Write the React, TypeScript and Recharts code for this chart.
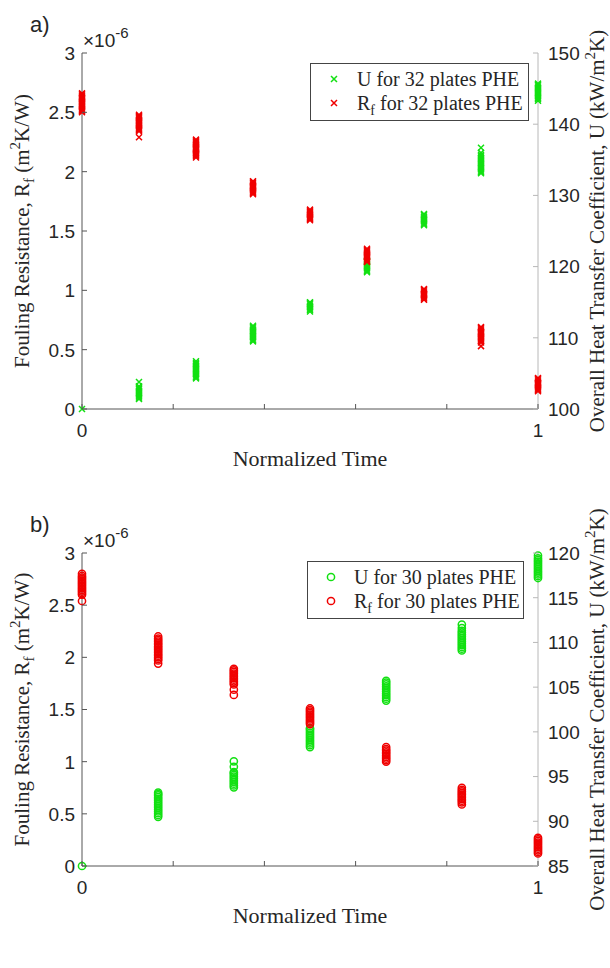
import React from 'react';
import { ScatterChart, Scatter, XAxis, YAxis } from 'recharts';

const RED = '#f00000';
const GREEN = '#12e012';
const AXIS = '#555555';
const AXIS_LIGHT = '#b8b8b8';
const TEXT = '#262626';
const SANS = '"Liberation Sans", Arial, sans-serif';
const SERIF = '"Liberation Serif", "Times New Roman", serif';

// x positions (normalized time)
const timeA = [0, 0.125, 0.25, 0.375, 0.5, 0.625, 0.75, 0.875, 1];
const timeB = [0, 0.167, 0.333, 0.5, 0.667, 0.833, 1];

// panel a) 32 plates, Rf in 1e-6 m2K/W (left axis)
const rfA = [
  [2.5, 2.51, 2.52, 2.53, 2.54, 2.55, 2.56, 2.57, 2.58, 2.59, 2.6, 2.61, 2.62, 2.63, 2.64, 2.65, 2.66],
  [2.29, 2.34, 2.35, 2.36, 2.37, 2.38, 2.39, 2.4, 2.41, 2.42, 2.43, 2.44, 2.45, 2.46, 2.47, 2.48],
  [2.12, 2.13, 2.14, 2.15, 2.16, 2.17, 2.18, 2.19, 2.2, 2.21, 2.22, 2.23, 2.24, 2.25, 2.26, 2.27],
  [1.81, 1.82, 1.83, 1.84, 1.85, 1.86, 1.87, 1.88, 1.89, 1.9, 1.91, 1.92],
  [1.59, 1.6, 1.61, 1.62, 1.63, 1.64, 1.65, 1.66, 1.67, 1.68],
  [1.24, 1.25, 1.26, 1.27, 1.28, 1.29, 1.3, 1.31, 1.32, 1.33, 1.34, 1.35],
  [0.92, 0.93, 0.94, 0.95, 0.96, 0.97, 0.98, 0.99, 1.0, 1.01],
  [0.53, 0.56, 0.57, 0.58, 0.59, 0.6, 0.61, 0.62, 0.63, 0.64, 0.65, 0.66, 0.67, 0.68, 0.69],
  [0.15, 0.16, 0.17, 0.18, 0.19, 0.2, 0.21, 0.22, 0.23, 0.24, 0.25, 0.26],
];
// panel a) 32 plates, U in kW/m2K (right axis)
const uA = [
  [100],
  [101.4, 101.6, 101.8, 102, 102.2, 102.4, 102.6, 102.8, 103, 103.2, 103.8],
  [104.3, 104.5, 104.7, 104.9, 105.1, 105.3, 105.5, 105.7, 105.9, 106.1, 106.3, 106.5, 106.7],
  [109.5, 109.7, 109.9, 110.1, 110.3, 110.5, 110.7, 110.9, 111.1, 111.3, 111.5, 111.7],
  [113.7, 113.9, 114.1, 114.3, 114.5, 114.7, 114.9, 115],
  [119.2, 119.4, 119.6, 119.8, 120, 120.2, 120.4, 120.6, 120.8],
  [125.8, 126, 126.2, 126.4, 126.6, 126.8, 127, 127.2, 127.4],
  [133.1, 133.3, 133.5, 133.7, 133.9, 134.1, 134.3, 134.5, 134.7, 134.9, 135.1, 135.3, 135.5, 135.7, 136, 136.7],
  [143.3, 143.5, 143.7, 143.9, 144.1, 144.3, 144.5, 144.7, 144.9, 145.1, 145.3, 145.5, 145.7],
];

// panel b) 30 plates, Rf in 1e-6 m2K/W (left axis)
const rfB = [
  [2.54, 2.6, 2.615, 2.63, 2.645, 2.66, 2.675, 2.69, 2.705, 2.72, 2.735, 2.75, 2.765, 2.78, 2.8],
  [1.94, 1.97, 1.985, 2.0, 2.015, 2.03, 2.045, 2.06, 2.075, 2.09, 2.105, 2.12, 2.135, 2.15, 2.165, 2.18, 2.2],
  [1.64, 1.69, 1.74, 1.755, 1.77, 1.785, 1.8, 1.815, 1.83, 1.845, 1.86, 1.875, 1.89],
  [1.36, 1.375, 1.39, 1.405, 1.42, 1.435, 1.45, 1.465, 1.48, 1.495, 1.51],
  [1.0, 1.015, 1.03, 1.045, 1.06, 1.075, 1.09, 1.105, 1.12, 1.14],
  [0.59, 0.61, 0.625, 0.64, 0.655, 0.67, 0.685, 0.7, 0.715, 0.73, 0.75],
  [0.12, 0.135, 0.15, 0.165, 0.18, 0.195, 0.21, 0.225, 0.24, 0.255, 0.27],
];
// panel b) 30 plates, U in kW/m2K (right axis)
const uB = [
  [85],
  [90.5, 90.7, 90.9, 91.1, 91.3, 91.5, 91.7, 91.9, 92.1, 92.3, 92.5, 92.7, 92.9, 93.05, 93.2],
  [93.8, 94, 94.2, 94.4, 94.6, 94.8, 95, 95.2, 95.4, 95.5, 96.1, 96.7],
  [98.3, 98.5, 98.7, 98.9, 99.1, 99.3, 99.5, 99.7, 99.9, 100.1, 100.3, 100.4],
  [103.5, 103.7, 103.9, 104.1, 104.3, 104.5, 104.7, 104.9, 105.1, 105.3, 105.5, 105.7],
  [109.1, 109.3, 109.5, 109.7, 109.9, 110.1, 110.3, 110.5, 110.7, 110.9, 111.1, 111.3, 111.6, 112],
  [117.2, 117.4, 117.6, 117.8, 118, 118.2, 118.4, 118.6, 118.8, 119, 119.2, 119.4, 119.7],
];

const xTicks = [0, 0.2, 0.4, 0.6, 0.8, 1];
const rfTicks = [0, 0.5, 1, 1.5, 2, 2.5, 3];
const uTicksA = [100, 110, 120, 130, 140, 150];
const uTicksB = [85, 90, 95, 100, 105, 110, 115, 120];

const toPoints = (times: number[], groups: number[][]) =>
  groups.flatMap((vals, i) => vals.map((v) => ({ x: times[i], y: v })));

const TOP = 53;
const X_AXIS_H = 30;

const XMark = (props: any) => {
  const { cx, cy, fill } = props;
  const r = 3;
  return (
    <path
      d={`M${cx - r},${cy - r}L${cx + r},${cy + r}M${cx - r},${cy + r}L${cx + r},${cy - r}`}
      stroke={fill}
      strokeWidth={1.5}
      fill="none"
    />
  );
};

const OMark = (props: any) => {
  const { cx, cy, fill } = props;
  return <circle cx={cx} cy={cy} r={3.6} stroke={fill} strokeWidth={1.5} fill="none" />;
};

const BottomTick = (props: any) => {
  const { x, y, payload } = props;
  const show = payload.value === 0 || payload.value === 1;
  return (
    <g>
      <line x1={x} y1={y} x2={x} y2={y - 5} stroke={AXIS} />
      {show && (
        <text x={x} y={y + 28} textAnchor="middle" fontFamily={SANS} fontSize={19} fill={TEXT}>
          {payload.value}
        </text>
      )}
    </g>
  );
};

const LeftTick = (props: any) => {
  const { x, y, payload } = props;
  return (
    <g>
      <line x1={x} y1={y} x2={x + 5} y2={y} stroke={AXIS} />
      <text x={x - 7} y={y} dy="0.36em" textAnchor="end" fontFamily={SANS} fontSize={19} fill={TEXT}>
        {payload.value}
      </text>
    </g>
  );
};

const makeRightTick = (color: string) => (props: any) => {
  const { x, y, payload } = props;
  return (
    <g>
      <line x1={x} y1={y} x2={x - 5} y2={y} stroke={color} />
      <text x={x + 10} y={y} dy="0.36em" textAnchor="start" fontFamily={SANS} fontSize={19} fill={TEXT}>
        {payload.value}
      </text>
    </g>
  );
};

interface PanelProps {
  top: number;
  height: number;
  plotBottom: number;
  tag: string;
  plates: number;
  times: number[];
  rf: number[][];
  u: number[][];
  uDomain: [number, number];
  uTicks: number[];
  Shape: (props: any) => React.ReactElement;
  legend: { left: number; top: number; width: number };
}

const Panel = ({ top, height, plotBottom, tag, plates, times, rf, u, uDomain, uTicks, Shape, legend }: PanelProps) => {
  const uData = toPoints(times, u);
  const rfData = toPoints(times, rf);
  const midY = (TOP + plotBottom) / 2;
  return (
    <div style={{ position: 'absolute', left: 0, top, width: 610, height }}>
      <ScatterChart
        width={610}
        height={height}
        margin={{ top: TOP, right: 0, left: 0, bottom: height - plotBottom - X_AXIS_H }}
      >
        <XAxis
          type="number"
          dataKey="x"
          domain={[0, 1]}
          ticks={xTicks}
          height={X_AXIS_H}
          tickSize={0}
          tickMargin={0}
          tick={<BottomTick />}
          axisLine={{ stroke: AXIS }}
          interval={0}
        />
        <YAxis
          yAxisId="left"
          type="number"
          dataKey="y"
          domain={[0, 3]}
          ticks={rfTicks}
          width={82}
          tickSize={0}
          tickMargin={0}
          tick={<LeftTick />}
          axisLine={{ stroke: AXIS }}
          interval={0}
        />
        <YAxis
          yAxisId="right"
          orientation="right"
          type="number"
          dataKey="y"
          domain={uDomain}
          ticks={uTicks}
          width={72}
          tickSize={0}
          tickMargin={0}
          tick={makeRightTick(AXIS_LIGHT)}
          axisLine={{ stroke: AXIS_LIGHT }}
          interval={0}
        />
        <Scatter
          name={`U for ${plates} plates PHE`}
          data={uData}
          yAxisId="right"
          fill={GREEN}
          shape={Shape}
          isAnimationActive={false}
        />
        <Scatter
          name={`Rf for ${plates} plates PHE`}
          data={rfData}
          yAxisId="left"
          fill={RED}
          shape={Shape}
          isAnimationActive={false}
        />
      </ScatterChart>

      <svg
        width={610}
        height={height}
        style={{ position: 'absolute', left: 0, top: 0, pointerEvents: 'none' }}
      >
        <text x={30} y={32} fontFamily={SANS} fontSize={22} fill={TEXT}>
          {tag}
        </text>
        <text x={83} y={47} fontFamily={SANS} fontSize={19} fill={TEXT}>
          ×10
          <tspan fontSize={15} dy={-9}>
            -6
          </tspan>
        </text>
        <text
          transform={`translate(29, ${midY}) rotate(-90)`}
          textAnchor="middle"
          fontFamily={SERIF}
          fontSize={21}
          fill={TEXT}
        >
          Fouling Resistance, R
          <tspan fontSize={15} dy={5}>f</tspan>
          <tspan dy={-5}> (m</tspan>
          <tspan fontSize={15} dy={-9}>2</tspan>
          <tspan dy={9}>K/W)</tspan>
        </text>
        <text
          transform={`translate(604, ${midY}) rotate(-90)`}
          textAnchor="middle"
          fontFamily={SERIF}
          fontSize={21}
          fill={TEXT}
        >
          Overall Heat Transfer Coefficient, U (kW/m
          <tspan fontSize={15} dy={-9}>2</tspan>
          <tspan dy={9}>K)</tspan>
        </text>
        <text x={310} y={plotBottom + 57} textAnchor="middle" fontFamily={SERIF} fontSize={22} fill={TEXT}>
          Normalized Time
        </text>

        <g transform={`translate(${legend.left}, ${legend.top})`}>
          <rect x={0.5} y={0.5} width={legend.width} height={57} fill="#fff" stroke="#444" />
          <Shape cx={24} cy={16} fill={GREEN} />
          <text x={47} y={16} dy="0.34em" fontFamily={SERIF} fontSize={20} fill={TEXT}>
            U for {plates} plates PHE
          </text>
          <Shape cx={24} cy={40} fill={RED} />
          <text x={47} y={40} dy="0.34em" fontFamily={SERIF} fontSize={20} fill={TEXT}>
            R<tspan fontSize={14} dy={5}>f</tspan>
            <tspan dy={-5}> for {plates} plates PHE</tspan>
          </text>
        </g>
      </svg>
    </div>
  );
};

export default function App() {
  return (
    <div style={{ position: 'absolute', left: 0, top: 0, width: 610, height: 968, background: '#fff' }}>
      <Panel
        top={0}
        height={480}
        plotBottom={409}
        tag="a)"
        plates={32}
        times={timeA}
        rf={rfA}
        u={uA}
        uDomain={[100, 150]}
        uTicks={uTicksA}
        Shape={XMark}
        legend={{ left: 310, top: 63, width: 218 }}
      />
      <Panel
        top={500}
        height={468}
        plotBottom={366}
        tag="b)"
        plates={30}
        times={timeB}
        rf={rfB}
        u={uB}
        uDomain={[85, 120]}
        uTicks={uTicksB}
        Shape={OMark}
        legend={{ left: 307, top: 61, width: 216 }}
      />
    </div>
  );
}
